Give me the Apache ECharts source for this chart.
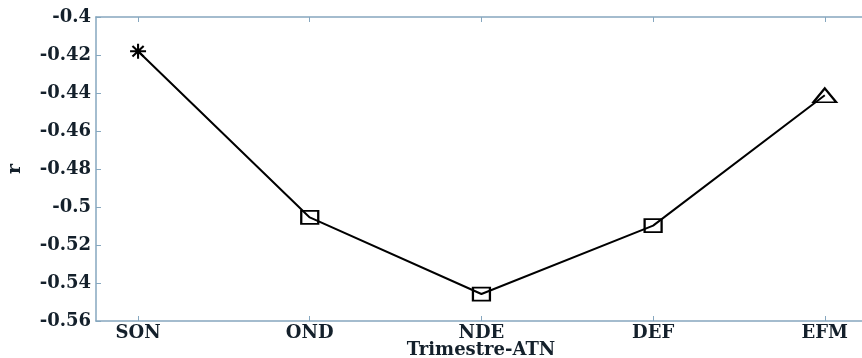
<!DOCTYPE html>
<html>
<head>
<meta charset="utf-8">
<script src="https://cdn.jsdelivr.net/npm/echarts@6/dist/echarts.min.js"></script>
<style>
  html, body { margin: 0; padding: 0; background: #fff; }
  #chart { width: 862px; height: 358px; }
</style>
</head>
<body>
<div id="chart"></div>
<script>
// Three-month windows and the correlation r for each
const categories = ['SON', 'OND', 'NDE', 'DEF', 'EFM'];
const rValues = [-0.418, -0.5055, -0.5458, -0.5098, -0.4412];
const markerKinds = ['star', 'square', 'square', 'square', 'triangle'];
const yTicks = [-0.56, -0.54, -0.52, -0.5, -0.48, -0.46, -0.44, -0.42, -0.4];

const catIndex = categories.map((_, i) => i);
const axisColor = '#86a7bf';
const labelFont = { fontFamily: 'DejaVu Serif', fontWeight: 'bold', fontSize: 18, color: '#14202b' };

const starPath = 'path://M5,0L5,10M0,5L10,5M1.5,1.5L8.5,8.5M1.5,8.5L8.5,1.5';
const symbolFor = {
  star: { symbol: starPath, symbolSize: [16, 15] },
  square: { symbol: 'rect', symbolSize: [17, 13] },
  triangle: { symbol: 'triangle', symbolSize: [23, 14] }
};

const points = rValues.map((v, i) => {
  const s = symbolFor[markerKinds[i]];
  return {
    value: [i, v],
    symbol: s.symbol,
    symbolSize: s.symbolSize,
    itemStyle: { color: 'none', borderColor: '#000', borderWidth: 2 }
  };
});

const chart = echarts.init(document.getElementById('chart'), null, { renderer: 'canvas' });

const xBase = {
  type: 'value',
  min: -0.245,
  max: 4.24,
  splitLine: { show: false },
  axisLine: { onZero: false, lineStyle: { color: axisColor, width: 1.5 } },
  axisTick: { inside: true, length: 5, customValues: catIndex, lineStyle: { color: axisColor } }
};
const yBase = {
  type: 'value',
  min: -0.56,
  max: -0.4,
  interval: 0.02,
  splitLine: { show: false },
  axisLine: { onZero: false, lineStyle: { color: axisColor, width: 1.5 } },
  axisTick: { inside: true, length: 5, lineStyle: { color: axisColor } }
};

chart.setOption({
  backgroundColor: '#fff',
  animation: false,
  grid: { left: 96, top: 17, right: -4, height: 304, containLabel: false, outerBoundsMode: 'none' },
  xAxis: [
    Object.assign({}, xBase, {
      position: 'bottom',
      name: 'Trimestre-ATN',
      nameLocation: 'middle',
      nameGap: 20,
      nameMoveOverlap: false,
      nameTextStyle: Object.assign({}, labelFont, { fontSize: 18, verticalAlign: 'top' }),
      axisLabel: Object.assign({}, labelFont, {
        margin: 3,
        customValues: catIndex,
        formatter: v => categories[Math.round(v)]
      })
    }),
    Object.assign({}, xBase, { position: 'top', axisLabel: { show: false } })
  ],
  yAxis: [
    Object.assign({}, yBase, {
      position: 'left',
      name: 'r',
      nameLocation: 'middle',
      nameRotate: 90,
      nameGap: 71,
      nameMoveOverlap: false,
      nameTextStyle: Object.assign({}, labelFont, { fontSize: 19 }),
      axisLabel: Object.assign({}, labelFont, {
        margin: 5,
        customValues: yTicks,
        formatter: v => String(+v.toFixed(2))
      })
    }),
    Object.assign({}, yBase, {
      position: 'right',
      axisLine: { show: false, onZero: false },
      axisTick: { show: true, inside: true, length: 3, lineStyle: { color: axisColor } },
      axisLabel: { show: false }
    })
  ],
  series: [{
    type: 'line',
    xAxisIndex: 0,
    yAxisIndex: 0,
    data: points,
    lineStyle: { color: '#000', width: 2 },
    z: 3
  }]
});
</script>
</body>
</html>
